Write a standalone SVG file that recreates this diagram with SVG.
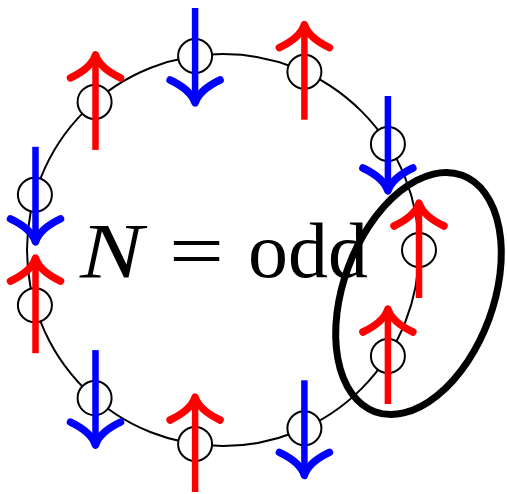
<svg xmlns="http://www.w3.org/2000/svg" xmlns:xlink="http://www.w3.org/1999/xlink" width="507" height="494" viewBox="0 0 507 494">
  <style>
    .ring { fill: none; stroke: #000; stroke-width: 2; }
    .site { fill: #fff; stroke: #000; stroke-width: 2; }
    .lbl { font-family: "Liberation Serif", "DejaVu Serif", serif; font-size: 78px; fill: #000; }
    .it { font-style: italic; }
    .shaft { fill: none; stroke-width: 6.5; stroke-linecap: butt; }
    .head { fill: none; stroke-width: 7.5; stroke-linecap: round; stroke-linejoin: round; }
    .up { stroke: #ff0000; }
    .down { stroke: #0000ff; }
  </style>
  <defs>
    <g id="spin">
      <path class="shaft" d="M0,48 L0,-44"/>
      <path class="head" d="M-25,-24 Q-4,-34 0,-47 Q4,-34 25,-24"/>
    </g>
  </defs>

  <circle class="ring" cx="223" cy="250" r="196"/>

  <g id="sites">
    <circle class="site" cx="419" cy="250" r="17"/>
    <circle class="site" cx="387.9" cy="144" r="17"/>
    <circle class="site" cx="304.4" cy="71.7" r="17"/>
    <circle class="site" cx="195.1" cy="56" r="17"/>
    <circle class="site" cx="94.6" cy="101.9" r="17"/>
    <circle class="site" cx="34.9" cy="194.8" r="17"/>
    <circle class="site" cx="34.9" cy="305.2" r="17"/>
    <circle class="site" cx="94.6" cy="398.1" r="17"/>
    <circle class="site" cx="195.1" cy="444" r="17"/>
    <circle class="site" cx="304.4" cy="428.3" r="17"/>
    <circle class="site" cx="387.9" cy="356" r="17"/>
  </g>

  <g id="label">
    <text class="lbl it" x="80" y="277" textLength="63" lengthAdjust="spacingAndGlyphs">N</text>
    <text class="lbl" x="169" y="277" textLength="55" lengthAdjust="spacingAndGlyphs">=</text>
    <text class="lbl" x="248" y="277" textLength="120" lengthAdjust="spacingAndGlyphs">odd</text>
  </g>

  <ellipse id="pair" cx="418.5" cy="293.5" rx="75" ry="126" transform="rotate(20.3 418.5 293.5)" fill="none" stroke="#000" stroke-width="7"/>

  <g id="spins">
    <use xlink:href="#spin" class="up" transform="translate(419,250)"/>
    <use xlink:href="#spin" class="down" transform="translate(387.9,144) rotate(180)"/>
    <use xlink:href="#spin" class="up" transform="translate(304.4,71.7)"/>
    <use xlink:href="#spin" class="down" transform="translate(195.1,56) rotate(180)"/>
    <use xlink:href="#spin" class="up" transform="translate(95.5,101.9)"/>
    <use xlink:href="#spin" class="down" transform="translate(35.5,194.8) rotate(180)"/>
    <use xlink:href="#spin" class="up" transform="translate(35.5,305.2)"/>
    <use xlink:href="#spin" class="down" transform="translate(95.5,398.1) rotate(180)"/>
    <use xlink:href="#spin" class="up" transform="translate(195.1,444)"/>
    <use xlink:href="#spin" class="down" transform="translate(304.4,428.3) rotate(180)"/>
    <use xlink:href="#spin" class="up" transform="translate(387.9,356)"/>
  </g>
</svg>
